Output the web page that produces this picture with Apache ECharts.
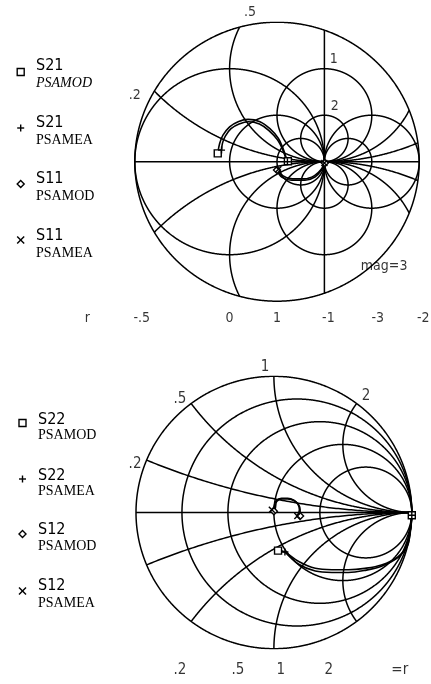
<!DOCTYPE html>
<html><head><meta charset="utf-8">
<script src="https://cdn.jsdelivr.net/npm/echarts@6/dist/echarts.min.js"></script>
<style>html,body{margin:0;padding:0;background:#fff}#c{width:431px;height:684px}</style>
</head><body><div id="c"></div>
<script>
// ---------- Smith-chart grid values ----------
const topMag = 3;
const topR = [-0.5, 0, 1, -1, -3, -2];
const topX = [0.2, 0.5, 1, 2];
const botMag = 1;
const botR = [0.2, 0.5, 1, 2];
const botX = [0.2, 0.5, 1, 2];

// ---------- tick labels ----------
const topRLabels = ['-.5', '0', '1', '-1', '-3', '-2'];
const topXLabels = ['.2', '.5', '1', '2'];
const botRLabels = ['.2', '.5', '1', '2', '=r'];
const botRTicks = [0.2, 0.5, 1, 2, Infinity];
const botXLabels = ['.2', '.5', '1', '2'];

// ---------- measured traces (reflection coefficient: real / imag) ----------
const s21ModRe = [-1.25, -1.21, -1.14, -1.00, -0.82, -0.61, -0.36, -0.15, 0.03, 0.13, 0.20, 0.23];
const s21ModIm = [0.18, 0.39, 0.57, 0.75, 0.86, 0.91, 0.86, 0.71, 0.50, 0.28, 0.07, 0.01];
const s21MeaRe = [-1.17, -1.15, -1.09, -0.97, -0.80, -0.60, -0.37, -0.17, 0.01, 0.12, 0.19, 0.22];
const s21MeaIm = [0.25, 0.40, 0.55, 0.71, 0.81, 0.86, 0.81, 0.67, 0.47, 0.26, 0.06, 0.00];
const s11ModRe = [0.00, 0.10, 0.31, 0.59, 0.80, 0.94, 1.01];
const s11ModIm = [-0.18, -0.33, -0.40, -0.40, -0.33, -0.18, -0.03];
const s11MeaRe = [0.03, 0.12, 0.32, 0.58, 0.79, 0.93, 1.00];
const s11MeaIm = [-0.16, -0.30, -0.37, -0.37, -0.30, -0.17, -0.03];

const s22ModRe = [0.03, 0.08, 0.18, 0.30, 0.42, 0.54, 0.66, 0.78, 0.90, 0.97, 0.99, 1.00];
const s22ModIm = [-0.28, -0.29, -0.36, -0.41, -0.42, -0.42, -0.41, -0.385, -0.325, -0.24, -0.12, -0.02];
const s22MeaRe = [0.08, 0.18, 0.30, 0.42, 0.54, 0.66, 0.78, 0.90, 0.965, 0.99, 1.00];
const s22MeaIm = [-0.29, -0.38, -0.43, -0.44, -0.44, -0.425, -0.395, -0.33, -0.24, -0.12, -0.02];
const s12ModRe = [0.00, 0.01, 0.02, 0.06, 0.10, 0.15, 0.18, 0.19, 0.19];
const s12ModIm = [0.01, 0.03, 0.08, 0.10, 0.10, 0.085, 0.055, 0.02, -0.025];
const s12MeaRe = [-0.015, 0.00, 0.015, 0.055, 0.10, 0.145, 0.175, 0.185, 0.17];
const s12MeaIm = [0.02, 0.04, 0.085, 0.105, 0.105, 0.09, 0.06, 0.02, -0.025];

// ---------- helpers ----------
const NUM_FONT = "'Liberation Sans Narrow','DejaVu Sans Condensed','Liberation Sans',sans-serif";
const SERIF = "'Liberation Serif','DejaVu Serif',serif";
const rToGamma = r => (r === Infinity || r === -1) ? 1 : (r - 1) / (r + 1);

function clipCircle(cx, cy, rad, mag, n) {
  const pt = a => [cx + rad * Math.cos(a), cy + rad * Math.sin(a)];
  const inside = a => { const p = pt(a); return p[0] * p[0] + p[1] * p[1] <= mag * mag + 1e-9; };
  const a0 = Math.atan2(-cy, 1 - cx);
  const segs = []; let cur = [];
  let prevA = a0, prevIn = inside(a0);
  if (prevIn) cur.push(pt(a0));
  for (let i = 1; i <= n; i++) {
    const a = a0 + 2 * Math.PI * i / n;
    const inn = inside(a);
    if (inn !== prevIn) {
      let lo = prevA, hi = a;
      for (let k = 0; k < 40; k++) { const m = (lo + hi) / 2; if (inside(m) === prevIn) lo = m; else hi = m; }
      const b = pt((lo + hi) / 2);
      if (prevIn) { cur.push(b); if (cur.length > 1) segs.push(cur); cur = []; }
      else cur = [b];
    }
    if (inn) cur.push(pt(a));
    prevA = a; prevIn = inn;
  }
  if (cur.length > 1) segs.push(cur);
  return segs;
}

function smithGrid(rList, xList, mag) {
  let segs = [];
  segs = segs.concat(clipCircle(0, 0, mag, mag + 0.001, 1440));
  segs.push([[-mag, 0], [mag, 0]]);
  rList.forEach(r => {
    if (r === -1) { const h = Math.sqrt(mag * mag - 1); segs.push([[1, -h], [1, h]]); return; }
    segs = segs.concat(clipCircle(r / (1 + r), 0, 1 / Math.abs(1 + r), mag, 1440));
  });
  xList.forEach(x => {
    [x, -x].forEach(xx => { segs = segs.concat(clipCircle(1, 1 / xx, 1 / Math.abs(xx), mag, 2000)); });
  });
  return segs;
}

function zip(re, im) { return re.map((u, i) => [u, im[i]]); }
function ends(re, im) { const n = re.length - 1; return [[re[0], im[0]], [re[n], im[n]]]; }

const SYM = {
  square: 'rect',
  plus: 'path://M0,5L10,5M5,0L5,10',
  diamond: 'diamond',
  cross: 'path://M0,0L10,10M10,0L0,10'
};

function gridSeries(idx, segs) {
  return {
    type: 'lines', coordinateSystem: 'cartesian2d', xAxisIndex: idx, yAxisIndex: idx,
    polyline: true, silent: true, z: 1,
    lineStyle: { color: '#000', width: 1.5, opacity: 1 },
    data: segs.map(s => ({ coords: s }))
  };
}
function traceSeries(idx, name, re, im, sym, size) {
  return [{
    type: 'line', name, xAxisIndex: idx, yAxisIndex: idx, smooth: 0.35,
    showSymbol: false, symbol: 'none', clip: false, z: 3,
    lineStyle: { color: '#000', width: 1.6 },
    data: zip(re, im)
  }, {
    type: 'scatter', name: name + ' mk', xAxisIndex: idx, yAxisIndex: idx, clip: false, z: 4,
    symbol: SYM[sym], symbolSize: size,
    itemStyle: { color: '#fff', borderColor: '#000', borderWidth: 1.4, opacity: 1 },
    data: ends(re, im)
  }];
}
function labelSeries(idx, items, size) {
  return {
    type: 'scatter', xAxisIndex: idx, yAxisIndex: idx, clip: false, silent: true, z: 5,
    symbolSize: 0,
    label: { show: true, position: 'inside', formatter: '{b}', color: '#000',
      fontFamily: NUM_FONT, fontSize: size },
    data: items
  };
}

// label anchors
const topRDx = [7, 0, 0, 4, 6, 4];
const topRowV = -3.36;
const topRItems = topR.map((r, i) => ({ name: topRLabels[i], value: [rToGamma(r), topRowV], label: { offset: [topRDx[i], 0] } }));
topRItems.push({ name: 'r', value: [-4.0, topRowV] });
const topXPos = [[-3.0, 1.43], [-0.57, 3.22], [1.20, 2.21], [1.22, 1.20]];
const topXItems = topXLabels.map((t, i) => ({ name: t, value: topXPos[i] }));
topXItems.push({ name: 'mag=3', value: [2.26, -2.26] });

const botRDx = [-2, 10, 7, 9, -12];
const botRowV = -1.156;
const botRItems = botRTicks.map((r, i) => ({ name: botRLabels[i], value: [rToGamma(r), botRowV], label: { offset: [botRDx[i], 0] } }));
const botXPos = [[-1.007, 0.356], [-0.681, 0.833], [-0.065, 1.068], [0.668, 0.855]];
const botXItems = botXLabels.map((t, i) => ({ name: t, value: botXPos[i] }));

// ---------- legends (graphic) ----------
function legendGraphics(x0, tx, items) {
  const g = [];
  const st = { stroke: '#000', lineWidth: 1.4 };
  items.forEach(it => {
    const sx = x0, sy = it.sy;
    if (it.sym === 'square') g.push({ type: 'rect', x: sx, y: sy, shape: { x: -3.5, y: -3.5, width: 7, height: 7 }, style: Object.assign({ fill: 'none' }, st) });
    if (it.sym === 'plus') { g.push({ type: 'line', x: sx, y: sy, shape: { x1: -3.5, y1: 0, x2: 3.5, y2: 0 }, style: st }); g.push({ type: 'line', x: sx, y: sy, shape: { x1: 0, y1: -3.5, x2: 0, y2: 3.5 }, style: st }); }
    if (it.sym === 'diamond') g.push({ type: 'polygon', x: sx, y: sy, shape: { points: [[0, -3.5], [3.5, 0], [0, 3.5], [-3.5, 0]] }, style: Object.assign({ fill: 'none' }, st) });
    if (it.sym === 'cross') { g.push({ type: 'line', x: sx, y: sy, shape: { x1: -3.5, y1: -3.5, x2: 3.5, y2: 3.5 }, style: st }); g.push({ type: 'line', x: sx, y: sy, shape: { x1: 3.5, y1: -3.5, x2: -3.5, y2: 3.5 }, style: st }); }
    g.push({ type: 'text', x: tx, y: it.y1, style: { text: it.t1, font: "16px " + NUM_FONT, fill: '#000', textAlign: 'left', textVerticalAlign: 'middle', align: 'left', verticalAlign: 'middle' } });
    g.push({ type: 'text', x: tx, y: it.y2, style: { text: it.t2, font: (it.italic ? 'italic ' : '') + "14px " + SERIF, fill: '#000', textAlign: 'left', textVerticalAlign: 'middle', align: 'left', verticalAlign: 'middle' } });
  });
  return g;
}
const topLegend = [
  { sym: 'square', t1: 'S21', t2: 'PSAMOD', italic: true, sy: 72, y1: 66, y2: 83 },
  { sym: 'plus', t1: 'S21', t2: 'PSAMEA', sy: 128, y1: 122.5, y2: 140 },
  { sym: 'diamond', t1: 'S11', t2: 'PSAMOD', sy: 184, y1: 179, y2: 196 },
  { sym: 'cross', t1: 'S11', t2: 'PSAMEA', sy: 240, y1: 236, y2: 253 }
];
const botLegend = [
  { sym: 'square', t1: 'S22', t2: 'PSAMOD', sy: 423, y1: 420, y2: 435 },
  { sym: 'plus', t1: 'S22', t2: 'PSAMEA', sy: 479, y1: 476, y2: 491 },
  { sym: 'diamond', t1: 'S12', t2: 'PSAMOD', sy: 534, y1: 530, y2: 546 },
  { sym: 'cross', t1: 'S12', t2: 'PSAMEA', sy: 591, y1: 586, y2: 603 }
];

const chart = echarts.init(document.getElementById('c'), null, { renderer: 'canvas' });
const series = [
  gridSeries(0, smithGrid(topR, topX, topMag)),
  gridSeries(1, smithGrid(botR, botX, botMag)),
  ...traceSeries(0, 'S21 PSAMOD', s21ModRe, s21ModIm, 'square', 7),
  ...traceSeries(0, 'S21 PSAMEA', s21MeaRe, s21MeaIm, 'plus', 7),
  ...traceSeries(0, 'S11 PSAMOD', s11ModRe, s11ModIm, 'diamond', 7),
  ...traceSeries(0, 'S11 PSAMEA', s11MeaRe, s11MeaIm, 'cross', 6),
  ...traceSeries(1, 'S22 PSAMOD', s22ModRe, s22ModIm, 'square', 7),
  ...traceSeries(1, 'S22 PSAMEA', s22MeaRe, s22MeaIm, 'plus', 7),
  ...traceSeries(1, 'S12 PSAMOD', s12ModRe, s12ModIm, 'diamond', 7),
  ...traceSeries(1, 'S12 PSAMEA', s12MeaRe, s12MeaIm, 'cross', 6),
  labelSeries(0, topRItems, 14),
  labelSeries(0, topXItems, 14),
  labelSeries(1, botRItems, 15),
  labelSeries(1, botXItems, 15)
];

chart.setOption({
  animation: false,
  backgroundColor: '#fff',
  grid: [
    { left: 134.8, top: 22.2, width: 284.4, height: 279 },
    { left: 136, top: 376.3, width: 275.8, height: 272.4 }
  ],
  xAxis: [
    { gridIndex: 0, type: 'value', min: -3, max: 3, show: false },
    { gridIndex: 1, type: 'value', min: -1, max: 1, show: false }
  ],
  yAxis: [
    { gridIndex: 0, type: 'value', min: -3, max: 3, show: false },
    { gridIndex: 1, type: 'value', min: -1, max: 1, show: false }
  ],
  graphic: legendGraphics(20.7, 36, topLegend).concat(legendGraphics(22.5, 38, botLegend)),
  series
});
</script></body></html>
